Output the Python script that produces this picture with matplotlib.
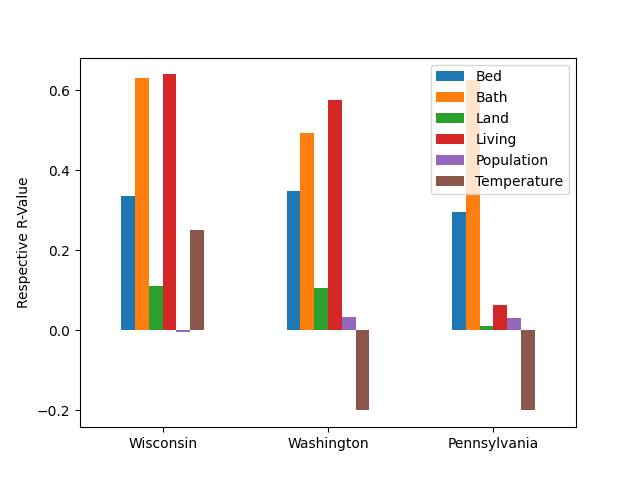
import matplotlib
matplotlib.use("Agg")
import matplotlib.pyplot as plt
import pandas as pd

# states on the x axis
states = ["Wisconsin", "Washington", "Pennsylvania"]

# r-values per feature
bed = [0.335, 0.3475, 0.295]
bath = [0.63, 0.4925, 0.625]
land = [0.11, 0.105, 0.01]
living = [0.64, 0.575, 0.0625]
population = [-0.005, 0.0325, 0.03]
temperature = [0.25, -0.2, -0.2]

df = pd.DataFrame({
    "Bed": bed,
    "Bath": bath,
    "Land": land,
    "Living": living,
    "Population": population,
    "Temperature": temperature,
}, index=states)

fig, ax = plt.subplots(figsize=(6.4, 4.8), dpi=100)
df.plot.bar(ax=ax, rot=0)
ax.set_ylabel("Respective R-Value")
ax.legend(loc="upper right")

fig.savefig("out.png")
